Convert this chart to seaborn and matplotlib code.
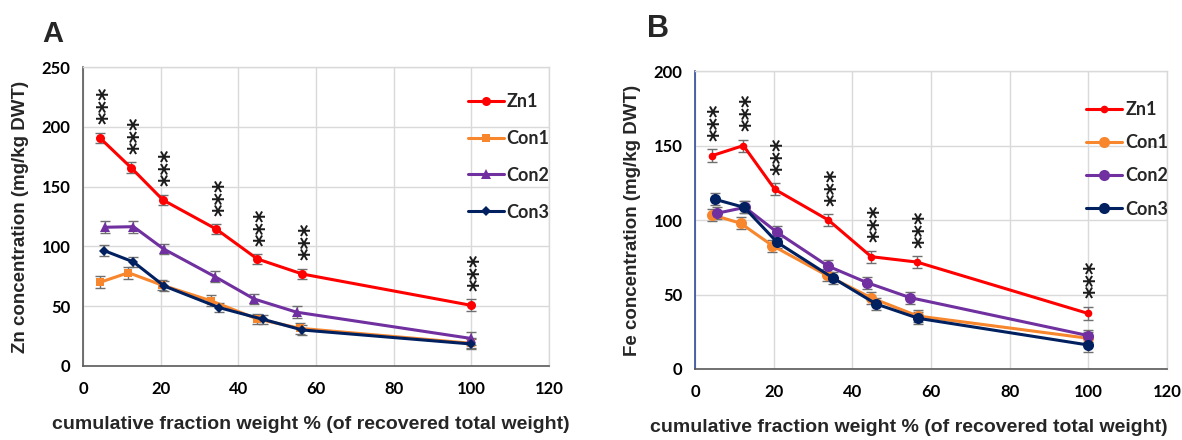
import numpy as np
import pandas as pd
import seaborn as sns
import matplotlib.pyplot as plt
from matplotlib.transforms import offset_copy

# Data (means and approx. error bars)
series = ["Zn1", "Con1", "Con2", "Con3"]
colors = {"Zn1": "#FF0000", "Con1": "#F7862D", "Con2": "#7030A0", "Con3": "#002060"}

# Panel A - Zn concentration
zn_x_Zn1 = [4.4, 12.4, 20.6, 34.3, 44.9, 56.5, 100]
zn_y_Zn1 = [190.6, 165.8, 138.8, 114.5, 89.5, 76.9, 50.7]
zn_e_Zn1 = [4.5, 4.5, 4.5, 4.0, 4.0, 4.5, 5.0]

zn_x_Con1 = [4.4, 11.7, 20.3, 32.9, 44.9, 55.9, 100]
zn_y_Con1 = [70.0, 78.0, 67.7, 54.6, 39.3, 31.5, 19.0]
zn_e_Con1 = [5.0, 5.0, 4.5, 4.5, 4.5, 4.5, 4.0]

zn_x_Con2 = [5.7, 13.0, 20.8, 34.0, 44.1, 55.0, 100]
zn_y_Con2 = [116.0, 116.5, 97.8, 74.7, 56.0, 45.0, 23.0]
zn_e_Con2 = [5.0, 5.0, 4.5, 4.5, 4.5, 5.0, 5.5]

zn_x_Con3 = [5.5, 13.0, 20.9, 35.1, 46.4, 56.5, 100]
zn_y_Con3 = [96.4, 87.0, 66.9, 48.8, 39.0, 30.1, 18.4]
zn_e_Con3 = [4.5, 4.5, 4.5, 4.0, 4.0, 4.0, 4.5]

# Panel B - Fe concentration
fe_x_Zn1 = [4.3, 12.3, 20.3, 33.9, 44.8, 56.4, 99.8]
fe_y_Zn1 = [143.2, 150.0, 120.6, 100.0, 75.4, 71.8, 37.4]
fe_e_Zn1 = [4.3, 4.0, 4.0, 4.0, 4.0, 4.0, 4.5]

fe_x_Con1 = [4.3, 11.6, 19.7, 33.5, 44.7, 56.6, 100]
fe_y_Con1 = [103.6, 97.8, 82.8, 62.9, 47.9, 35.6, 20.6]
fe_e_Con1 = [4.0, 4.0, 4.0, 4.0, 4.0, 4.0, 4.0]

fe_x_Con2 = [5.5, 12.7, 20.9, 33.8, 43.8, 54.7, 100]
fe_y_Con2 = [104.5, 108.5, 91.7, 69.1, 57.9, 47.9, 22.4]
fe_e_Con2 = [4.0, 4.0, 4.0, 4.0, 4.0, 4.0, 4.0]

fe_x_Con3 = [5.1, 12.5, 20.9, 35.2, 46.1, 56.8, 100]
fe_y_Con3 = [113.9, 108.5, 85.0, 60.9, 43.6, 34.0, 16.1]
fe_e_Con3 = [4.0, 4.0, 4.0, 4.0, 4.0, 4.0, 4.5]

x_ticks = [0, 20, 40, 60, 80, 100, 120]
zn_y_ticks = [0, 50, 100, 150, 200, 250]
fe_y_ticks = [0, 50, 100, 150, 200]


def to_long(prefix):
    g = globals()
    rows = []
    for s in series:
        for x, y, e in zip(g[f"{prefix}_x_{s}"], g[f"{prefix}_y_{s}"], g[f"{prefix}_e_{s}"]):
            rows.append({"series": s, "x": x, "y": y, "err": e})
    return pd.DataFrame(rows)


df_zn = to_long("zn")
df_fe = to_long("fe")

sns.set_style("white")
plt.rcParams["font.family"] = ["Lato", "DejaVu Sans"]

fig = plt.figure(figsize=(11.82, 4.4), dpi=100)
ax_a = fig.add_axes([0.0702, 0.1682, 0.3942, 0.6795])
ax_b = fig.add_axes([0.588, 0.1614, 0.3993, 0.677])

markers_a = {"Zn1": ("o", 6.5), "Con1": ("s", 6.0), "Con2": ("^", 7.0), "Con3": ("D", 5.0)}
markers_b = {"Zn1": ("o", 5.5), "Con1": ("o", 8.0), "Con2": ("o", 8.0), "Con3": ("o", 8.0)}


def draw_panel(ax, df, markers, yticks, ylabel, spine_left, leg_anchor, leg_spacing,
               xlabel_x):
    # error bars first, underneath the lines
    for s in series:
        d = df[df.series == s]
        ax.errorbar(d.x, d.y, yerr=d.err, fmt="none", ecolor="#6F6F6F",
                    elinewidth=1.0, capsize=3.5, capthick=1.0, zorder=2)
    for s in series:
        d = df[df.series == s]
        m, ms = markers[s]
        sns.lineplot(data=d, x="x", y="y", ax=ax, color=colors[s], marker=m,
                     markersize=ms, markeredgewidth=0, linewidth=2.2,
                     sort=False, label=s, zorder=3)

    # significance stars above Zn1 (shifted right to centre the rotated glyphs)
    star_tr = offset_copy(ax.transData, fig=ax.figure, x=5, y=0, units="points")
    d = df[df.series == "Zn1"]
    for x, y, e in zip(d.x, d.y, d.err):
        ax.text(x, y + e + 7 * (yticks[-1] / 250), "***", rotation=90,
                ha="center", va="bottom", fontsize=17, family="DejaVu Sans",
                fontweight="bold", color="#1A1A1A", zorder=4, transform=star_tr)

    ax.set_xlim(0, 120)
    ax.set_ylim(0, yticks[-1])
    ax.set_xticks(x_ticks)
    ax.set_yticks(yticks)
    ax.grid(True, color="#D9D9D9", linewidth=1.0)
    ax.set_axisbelow(True)
    for side in ["top", "right"]:
        ax.spines[side].set_color("#D9D9D9")
        ax.spines[side].set_linewidth(1.0)
    ax.spines["bottom"].set_color("#595959")
    ax.spines["bottom"].set_linewidth(1.2)
    ax.spines["left"].set_color(spine_left)
    ax.spines["left"].set_linewidth(1.2)
    ax.tick_params(axis="both", which="major", direction="out", length=5,
                   width=1.2, labelsize=12, pad=4)
    ax.tick_params(axis="x", colors="#595959", labelcolor="black", pad=6)
    ax.tick_params(axis="y", colors=spine_left, labelcolor="black")
    for lab in ax.get_xticklabels() + ax.get_yticklabels():
        lab.set_fontweight("bold")

    ax.set_xlabel("cumulative fraction weight % (of recovered total weight)",
                  fontsize=14, fontweight="bold", family="Liberation Sans")
    ax.xaxis.set_label_coords(xlabel_x, -0.168)
    ax.set_ylabel(ylabel, fontsize=13.5, fontweight="bold", family="Liberation Sans",
                  labelpad=9)

    leg = ax.legend(loc="upper left", bbox_to_anchor=leg_anchor, frameon=False,
                    handlelength=2.0, handletextpad=0.15, labelspacing=leg_spacing,
                    borderpad=0, prop={"family": "Lato", "weight": "bold", "size": 13})
    return leg


draw_panel(ax_a, df_zn, markers_a, zn_y_ticks, "Zn concentration (mg/kg DWT)",
           "#595959", (0.806, 0.943), 1.1, 0.49)
draw_panel(ax_b, df_fe, markers_b, fe_y_ticks, "Fe concentration (mg/kg DWT)",
           "#2F4B9A", (0.81, 0.93), 0.9, 0.452)

fig.text(42 / 1182, 1 - 42 / 440, "A", fontsize=21, fontweight="bold",
         family="Liberation Sans", ha="left", va="baseline")
fig.text(647 / 1182, 1 - 37 / 440, "B", fontsize=22, fontweight="bold",
         family="Liberation Sans", ha="left", va="baseline")

fig.savefig("out.png", dpi=100)
